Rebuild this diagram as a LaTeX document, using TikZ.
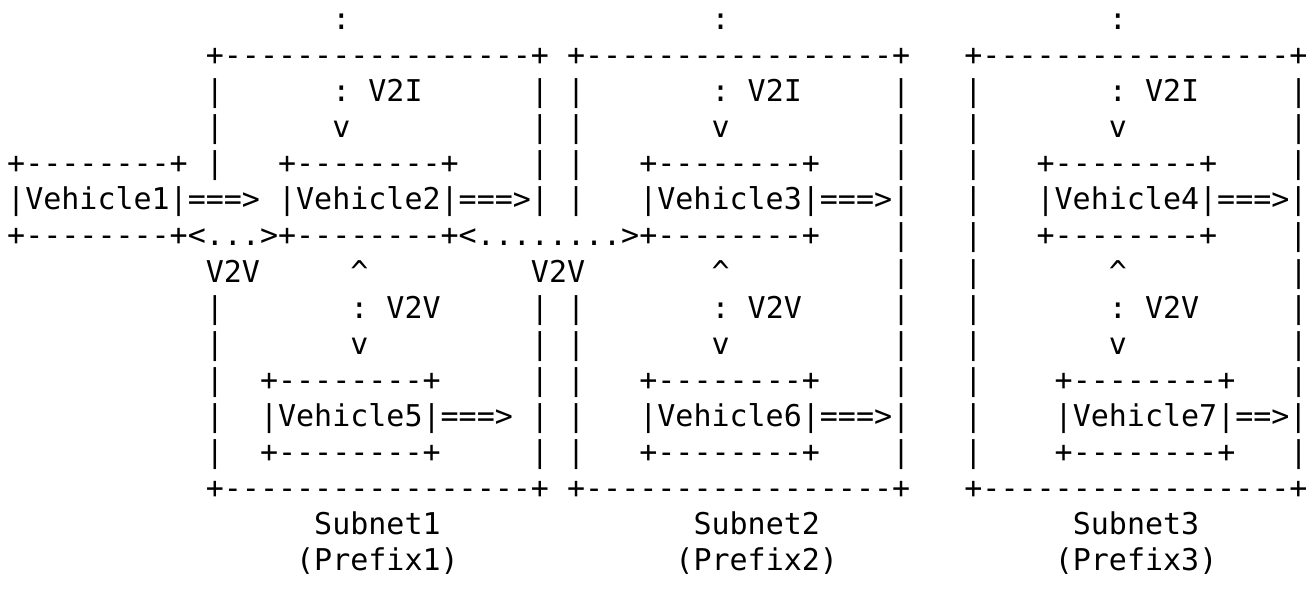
\documentclass[tikz,border=0pt]{standalone}
\usepackage{fontspec}
\setmonofont{DejaVu Sans Mono}
% blank columns of the ascii grid
\newcommand\gap[1]{\kern#1\fontcharwd\font`\x\relax}
\begin{document}
\begin{tikzpicture}[x=1pt,y=1pt,
    row/.style={anchor=base west,inner sep=0pt,font=\ttfamily\fontsize{15}{18}\selectfont}]
  \def\brd{+-----------------+}
  \def\carbox{+--------+}
  \def\up{\textasciicircum}
  \useasboundingbox (0,0) rectangle (658,-302);
  % subnets and their uplinks
  \node[row] (r0) at (3.4,-15) {\gap{18}:\gap{20}:\gap{21}:};
  \node[row] (r1) at (3.4,-33) {\gap{11}\brd\gap{1}\brd\gap{3}\brd};
  \node[row] (r2) at (3.4,-51) {\gap{11}|\gap{6}:\gap{1}V2I\gap{6}|\gap{1}|\gap{7}:\gap{1}V2I\gap{5}|\gap{3}|\gap{7}:\gap{1}V2I\gap{5}|};
  \node[row] (r3) at (3.4,-69) {\gap{11}|\gap{6}v\gap{10}|\gap{1}|\gap{7}v\gap{9}|\gap{3}|\gap{7}v\gap{9}|};
  % first row of vehicles
  \node[row] (r4) at (3.4,-87) {\carbox\gap{1}|\gap{3}\carbox\gap{4}|\gap{1}|\gap{3}\carbox\gap{4}|\gap{3}|\gap{3}\carbox\gap{4}|};
  \node[row] (r5) at (3.4,-105) {|Vehicle1|===>\gap{1}|Vehicle2|===>|\gap{1}|\gap{3}|Vehicle3|===>|\gap{3}|\gap{3}|Vehicle4|===>|};
  \node[row] (r6) at (3.4,-123) {\carbox<...>\carbox<........>\carbox\gap{4}|\gap{3}|\gap{3}\carbox\gap{4}|};
  \node[row] (r7) at (3.4,-141) {\gap{11}V2V\gap{5}\up\gap{9}V2V\gap{7}\up\gap{9}|\gap{3}|\gap{7}\up\gap{9}|};
  \node[row] (r8) at (3.4,-159) {\gap{11}|\gap{7}:\gap{1}V2V\gap{5}|\gap{1}|\gap{7}:\gap{1}V2V\gap{5}|\gap{3}|\gap{7}:\gap{1}V2V\gap{5}|};
  \node[row] (r9) at (3.4,-177) {\gap{11}|\gap{7}v\gap{9}|\gap{1}|\gap{7}v\gap{9}|\gap{3}|\gap{7}v\gap{9}|};
  % second row of vehicles
  \node[row] (r10) at (3.4,-195) {\gap{11}|\gap{2}\carbox\gap{5}|\gap{1}|\gap{3}\carbox\gap{4}|\gap{3}|\gap{4}\carbox\gap{3}|};
  \node[row] (r11) at (3.4,-213) {\gap{11}|\gap{2}|Vehicle5|===>\gap{1}|\gap{1}|\gap{3}|Vehicle6|===>|\gap{3}|\gap{4}|Vehicle7|==>|};
  \node[row] (r12) at (3.4,-231) {\gap{11}|\gap{2}\carbox\gap{5}|\gap{1}|\gap{3}\carbox\gap{4}|\gap{3}|\gap{4}\carbox\gap{3}|};
  \node[row] (r13) at (3.4,-249) {\gap{11}\brd\gap{1}\brd\gap{3}\brd};
  % labels
  \node[row] (r14) at (3.4,-267) {\gap{17}Subnet1\gap{14}Subnet2\gap{14}Subnet3};
  \node[row] (r15) at (3.4,-285) {\gap{16}(Prefix1)\gap{12}(Prefix2)\gap{12}(Prefix3)};
\end{tikzpicture}
\end{document}
